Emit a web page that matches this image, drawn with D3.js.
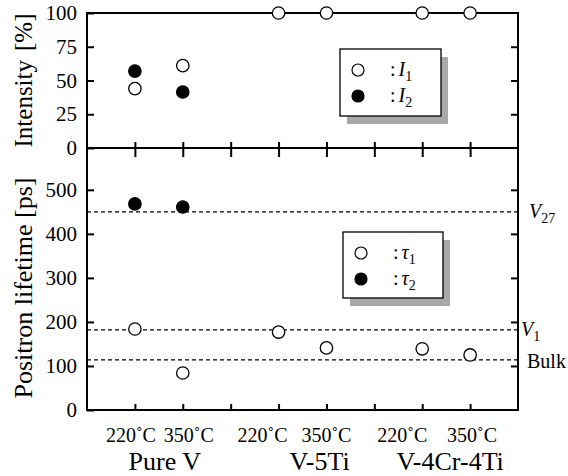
<!DOCTYPE html>
<html>
<head>
<meta charset="utf-8">
<script src="https://cdn.jsdelivr.net/npm/d3@7"></script>
</head>
<body style="margin:0">
<script>
// sample positions on the x scale (0..9), two temperatures per alloy
const samplePos = [1, 2, 4, 5, 7, 8];
const tempLabels = ["220˚C", "350˚C", "220˚C", "350˚C", "220˚C", "350˚C"];
const alloys = ["Pure V", "V-5Ti", "V-4Cr-4Ti"];
const alloyPos = [1.5, 4.5, 7.5];

// intensities [%]
const I1 = [44, 61, 100, 100, 100, 100];
const I2 = [57, 41.5, null, null, null, null];

// positron lifetimes [ps]
const tau1 = [184, 84, 177, 141, 139, 125];
const tau2 = [468, 461, null, null, null, null];

// reference lifetimes
const refNames = ["V27", "V1", "Bulk"];
const refValues = [450, 182, 114];

const intensityTicks = [0, 25, 50, 75, 100];
const lifetimeTicks = [0, 100, 200, 300, 400, 500];

const width = 568, height = 476;
const left = 87, right = 518;
const topY = 13, midY = 148, botY = 410;
const serifFont = "Liberation Serif";

// label nudges (px), the labels in the original are not exactly on the ticks
const tempShift = [-4, 6, -16, 0, -20, 2];
const alloyShift = [6, 17, 4];
const refLabelX = [529, 521, 527];

const x = d3.scaleLinear().domain([0, 9]).range([left, right]);
const yI = d3.scaleLinear().domain([0, 100]).range([midY, topY]);
const yT = d3.scaleLinear().domain([0, 595]).range([botY, midY]);

const svg = d3.select("body").append("svg")
    .attr("width", width)
    .attr("height", height)
    .attr("font-family", serifFont);

// every text gets the serif font directly
const txt = sel => sel.append("text").attr("font-family", serifFont).attr("fill", "#000");

// reference dashed lines (under the markers)
svg.append("g")
  .selectAll("line")
  .data(refValues)
  .join("line")
    .attr("x1", left).attr("x2", right)
    .attr("y1", d => yT(d)).attr("y2", d => yT(d))
    .attr("stroke", "#000")
    .attr("stroke-width", 1.2)
    .attr("stroke-dasharray", "4,3");

// reference labels on the right
refNames.forEach((n, i) => {
  const t = txt(svg)
      .attr("font-size", 20)
      .attr("x", refLabelX[i])
      .attr("y", yT(refValues[i]) + 6);
  if (n === "Bulk") {
    t.attr("y", yT(refValues[i]) + 8).text("Bulk");
  } else {
    t.append("tspan").attr("font-style", "italic").text("V");
    t.append("tspan").attr("font-size", 14).attr("dy", 5).text(n.slice(1));
  }
});

// frames
function frame(y0, y1) {
  svg.append("rect")
      .attr("x", left).attr("y", y0)
      .attr("width", right - left).attr("height", y1 - y0)
      .attr("fill", "none")
      .attr("stroke", "#000")
      .attr("stroke-width", 2);
}
frame(topY, midY);
frame(midY, botY);

// d3 puts font-family="sans-serif" on the axis group, drop it
function styleAxis(g) {
  g.attr("font-family", null).attr("font-size", null);
  g.select(".domain").remove();
  g.selectAll(".tick line").attr("stroke-width", 2);
  g.selectAll(".tick text")
      .attr("font-family", serifFont)
      .attr("font-size", 21)
      .attr("fill", "#000");
}

// y axes, top panel
svg.append("g")
    .attr("transform", `translate(${left},0)`)
    .call(d3.axisLeft(yI).tickValues(intensityTicks).tickSizeInner(-7).tickSizeOuter(0).tickPadding(10))
    .call(styleAxis);
svg.append("g")
    .attr("transform", `translate(${right},0)`)
    .call(d3.axisRight(yI).tickValues([25, 50, 75]).tickSizeInner(-7).tickSizeOuter(0).tickFormat(""))
    .call(styleAxis);

// y axes, bottom panel
svg.append("g")
    .attr("transform", `translate(${left},0)`)
    .call(d3.axisLeft(yT).tickValues(lifetimeTicks).tickSizeInner(-7).tickSizeOuter(0).tickPadding(10))
    .call(styleAxis);
svg.append("g")
    .attr("transform", `translate(${right},0)`)
    .call(d3.axisRight(yT).tickValues([100, 200, 300, 400, 500]).tickSizeInner(-7).tickSizeOuter(0).tickFormat(""))
    .call(styleAxis);

// x ticks: across the middle line and inward on the bottom
const xTicks = d3.range(1, 9);
svg.append("g")
    .attr("transform", `translate(0,${midY})`)
    .call(d3.axisTop(x).tickValues(xTicks).tickSizeInner(6).tickSizeOuter(0).tickFormat(""))
    .call(styleAxis);
svg.append("g")
    .attr("transform", `translate(0,${midY})`)
    .call(d3.axisBottom(x).tickValues(xTicks).tickSizeInner(9).tickSizeOuter(0).tickFormat(""))
    .call(styleAxis);
svg.append("g")
    .attr("transform", `translate(0,${botY})`)
    .call(d3.axisTop(x).tickValues(xTicks).tickSizeInner(6).tickSizeOuter(0).tickFormat(""))
    .call(styleAxis);

// x labels
tempLabels.forEach((d, i) => {
  txt(svg)
      .attr("font-size", 20)
      .attr("text-anchor", "middle")
      .attr("x", x(samplePos[i]) + tempShift[i])
      .attr("y", 442)
      .text(d);
});
alloys.forEach((d, i) => {
  txt(svg)
      .attr("font-size", 26)
      .attr("text-anchor", "middle")
      .attr("x", x(alloyPos[i]) + alloyShift[i])
      .attr("y", 470)
      .text(d);
});

// axis titles
const t1 = txt(svg)
    .attr("transform", `translate(32,${(topY + midY) / 2}) rotate(-90)`)
    .attr("text-anchor", "middle")
    .attr("font-size", 25);
t1.append("tspan").text("Intensity");
t1.append("tspan").attr("dx", 9).text("[%]");
txt(svg)
    .attr("transform", `translate(32,288) rotate(-90)`)
    .attr("text-anchor", "middle")
    .attr("font-size", 26)
    .text("Positron lifetime [ps]");

// markers
function markers(vals, y, filled) {
  svg.append("g")
    .selectAll("circle")
    .data(vals.map((v, i) => ({ v, p: samplePos[i] })).filter(d => d.v != null))
    .join("circle")
      .attr("cx", d => x(d.p))
      .attr("cy", d => y(d.v))
      .attr("r", 6.2)
      .attr("fill", filled ? "#000" : "#fff")
      .attr("stroke", "#000")
      .attr("stroke-width", 1.3);
}
markers(I1, yI, false);
markers(I2, yI, true);
markers(tau1, yT, false);
markers(tau2, yT, true);

// legends with gray drop shadow
function legend(x0, y0, w, h, sym) {
  const g = svg.append("g");
  g.append("rect").attr("x", x0 + 7).attr("y", y0 + 8).attr("width", w).attr("height", h).attr("fill", "#a8a8a8");
  g.append("rect").attr("x", x0).attr("y", y0).attr("width", w).attr("height", h)
      .attr("fill", "#fff").attr("stroke", "#000").attr("stroke-width", 1.3);
  [false, true].forEach((filled, i) => {
    const cy = y0 + 21 + i * 26;
    g.append("circle").attr("cx", x0 + 18).attr("cy", cy).attr("r", 6)
        .attr("fill", filled ? "#000" : "#fff").attr("stroke", "#000").attr("stroke-width", 1.2);
    const t = txt(g).attr("x", x0 + 50).attr("y", cy + 6).attr("font-size", 20);
    t.append("tspan").text(":");
    t.append("tspan").attr("font-style", "italic").attr("dx", 3).text(sym);
    t.append("tspan").attr("font-size", 14).attr("dy", 5).text(i + 1);
  });
}
legend(340, 49, 101, 67, "I");
legend(343, 232, 100, 66, "τ");
</script>
</body>
</html>
